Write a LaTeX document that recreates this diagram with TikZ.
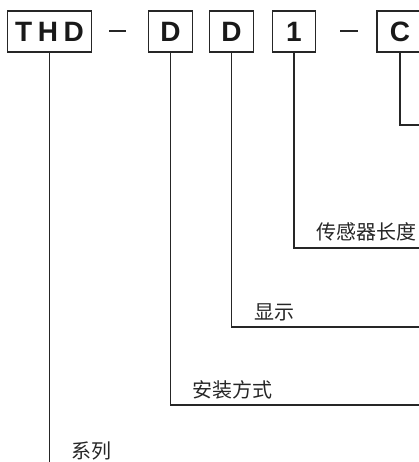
\documentclass[tikz,border=0pt]{standalone}
\usepackage{fontspec}
\setmainfont{Liberation Sans}
\newfontfamily\cjk{Noto Sans CJK SC}
\begin{document}
\begin{tikzpicture}[x=1pt,y=-1pt,
  codebox/.style={draw=black!85, line width=1.4pt, minimum height=41pt, inner sep=0pt,
    font=\fontsize{28}{28}\selectfont\bfseries, text=black!90},
  lead/.style={draw=black!85, line width=1.3pt},
  sep/.style={draw=black!85, line width=2pt},
  lbl/.style={anchor=west, inner sep=0pt, font=\cjk\fontsize{20}{20}\selectfont, text=black!85}]
\useasboundingbox (0,0) rectangle (419,462);
\begin{scope}
\clip (0,0) rectangle (419,462);
% code boxes
\node[codebox, minimum width=84pt] (thd) at (49.5,31.5) {T\kern5.5ptH\kern5.5ptD};
\node[codebox, minimum width=44pt] (d1) at (170.5,31.5) {D};
\node[codebox, minimum width=44pt] (d2) at (231.5,31.5) {D};
\node[codebox, minimum width=43pt] (n1) at (294,31.5) {1};
\node[codebox, minimum width=46pt] (c) at (400,31.5) {C};
% separators
\coordinate (s1a) at (109,31); \coordinate (s1b) at (126,31);
\coordinate (s2a) at (340,31); \coordinate (s2b) at (358,31);
\draw[sep] (s1a) -- (s1b);
\draw[sep] (s2a) -- (s2b);
% leader ends
\coordinate (eC) at (430,125);
\coordinate (e1) at (430,248);
\coordinate (eD2) at (430,327);
\coordinate (eD1) at (430,405);
\coordinate (eT) at (430,475);
\draw[lead] (c.south) |- (eC);
\draw[lead] (n1.south) |- (e1);
\draw[lead] (d2.south) |- (eD2);
\draw[lead] (d1.south) |- (eD1);
\draw[lead] (thd.south) |- (eT);
% labels
\node[lbl] (l1) at (316,232) {传感器长度};
\node[lbl] (l2) at (254,312) {显示};
\node[lbl] (l3) at (192,390) {安装方式};
\node[lbl] (l4) at (71,451) {系列};
\end{scope}
\end{tikzpicture}
\end{document}
